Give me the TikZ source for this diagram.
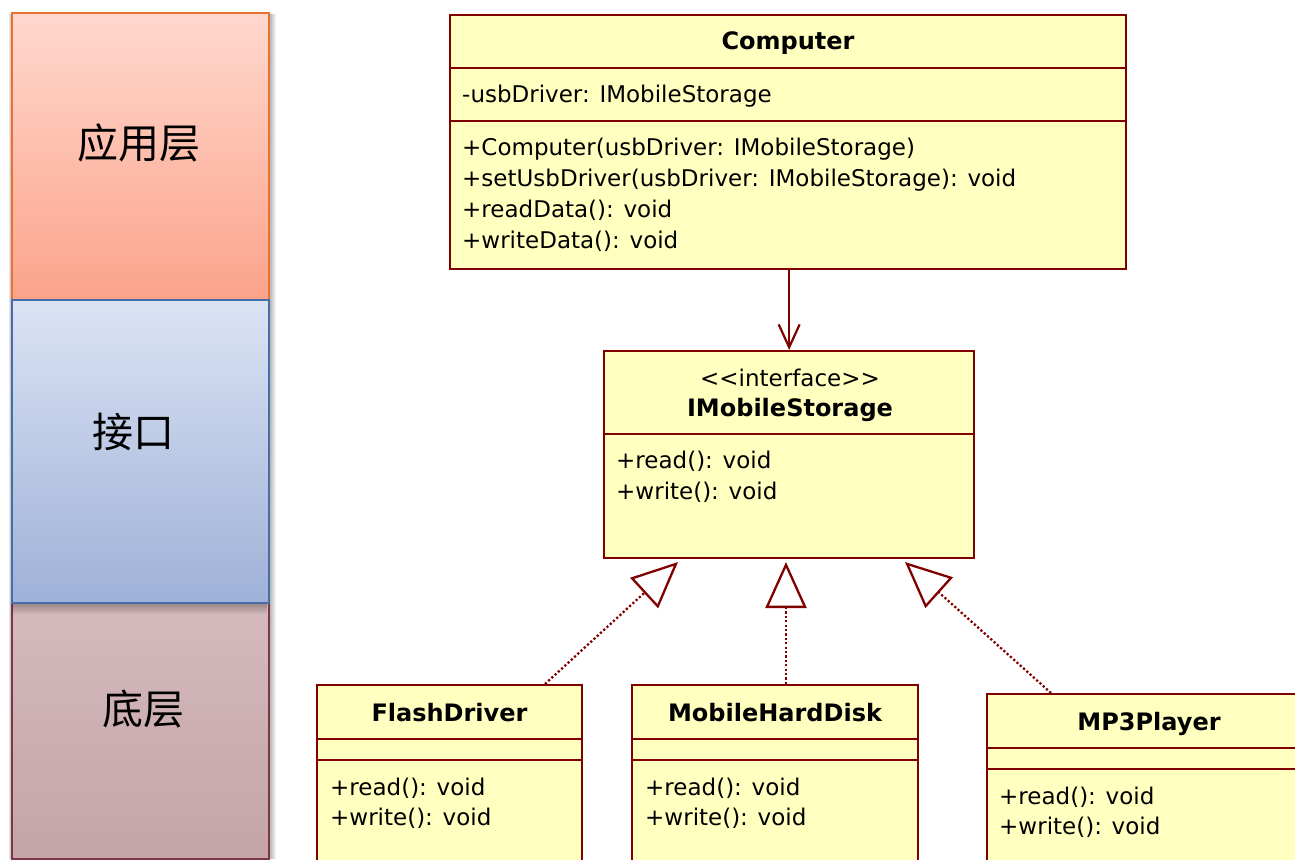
\documentclass[tikz,border=0pt]{standalone}
\usepackage{fontspec}
\setmainfont{DejaVu Sans}
\newfontfamily\cjk{Noto Sans CJK SC}
\usetikzlibrary{arrows.meta}
\definecolor{umlline}{RGB}{128,0,0}
\definecolor{umlfill}{RGB}{255,255,192}
\definecolor{appline}{RGB}{233,113,50}
\definecolor{apptop}{RGB}{255,216,206}
\definecolor{appbot}{RGB}{252,163,138}
\definecolor{ifline}{RGB}{68,110,170}
\definecolor{iftop}{RGB}{219,227,244}
\definecolor{ifbot}{RGB}{158,177,215}
\definecolor{lowline}{RGB}{125,55,72}
\definecolor{lowtop}{RGB}{213,186,189}
\definecolor{lowbot}{RGB}{196,164,167}
\begin{document}
\begin{tikzpicture}[x=1pt,y=-1pt,
  layer/.style={line width=1.8pt, inner sep=0pt, anchor=north west, minimum width=257pt},
  layertext/.style={inner sep=0pt, font=\cjk\fontsize{41}{48}\selectfont},
  cls/.style={draw=umlline, fill=umlfill, line width=2.3pt, inner sep=0pt, anchor=north west},
  sep/.style={draw=umlline, line width=2.3pt},
  member/.style={inner sep=0pt, anchor=base west, font=\fontsize{23}{28}\selectfont},
  title/.style={inner sep=0pt, anchor=base, font=\bfseries\fontsize{24}{28}\selectfont},
  stereo/.style={inner sep=0pt, anchor=base, font=\fontsize{23}{28}\selectfont},
  assoc/.style={draw=umlline, line width=2.2pt, -{Straight Barb[length=23pt,width=21pt]}},
  realize/.style={draw=umlline, line width=2.3pt, dash pattern=on 2.2pt off 2.2pt,
    -{Triangle[open, length=46pt, width=41pt, fill=white]}}
]
\useasboundingbox (0,0) rectangle (1295,859);

% soft shadow behind the layer stack
\foreach \s in {1,...,7}
  \fill[black, opacity=0.05] (12-\s*0.5, 14) rectangle (269+\s, 859);

% layer stack
\node[layer, draw=lowline, top color=lowtop, bottom color=lowbot, minimum height=256pt] (low) at (11,602) {};
\foreach \s in {1,...,12}
  \fill[black, opacity=0.028] (11.9,602) rectangle (267.1,602+\s);
\node[layer, draw=appline, top color=apptop, bottom color=appbot, minimum height=287pt] (app) at (11,12) {};
\node[layer, draw=ifline, top color=iftop, bottom color=ifbot, minimum height=303pt] (if) at (11,299) {};

\node[layertext] (appT) at (138.5,143) {应用层};
\node[layertext] (ifT) at (133,432) {接口};
\node[layertext] (lowT) at (143,709) {底层};

% Computer
\node[cls, minimum width=676pt, minimum height=254pt] (comp) at (449,14) {};
\draw[sep] (449,68) -- (1127,68);
\draw[sep] (449,121) -- (1127,121);
\node[title] (compT) at (788,50) {Computer};
\node[member] (compA) at (462,102.5) {-usbDriver: IMobileStorage};
\node[member] (compM1) at (462,155.5) {+Computer(usbDriver: IMobileStorage)};
\node[member] (compM2) at (462,186.5) {+setUsbDriver(usbDriver: IMobileStorage): void};
\node[member] (compM3) at (462,217.5) {+readData(): void};
\node[member] (compM4) at (462,248.5) {+writeData(): void};

% IMobileStorage
\node[cls, minimum width=370pt, minimum height=207pt] (ims) at (603,350) {};
\draw[sep] (603,434) -- (975,434);
\node[stereo] (imsS) at (790,386) {<{}<interface>{}>};
\node[title] (imsT) at (790,416.5) {IMobileStorage};
\node[member] (imsM1) at (616,468) {+read(): void};
\node[member] (imsM2) at (616,499) {+write(): void};

% FlashDriver
\node[cls, minimum width=265pt, minimum height=220pt] (fd) at (316,684) {};
\draw[sep] (316,739) -- (583,739);
\draw[sep] (316,760) -- (583,760);
\node[title] (fdT) at (449.5,721) {FlashDriver};
\node[member] (fdM1) at (330,795) {+read(): void};
\node[member] (fdM2) at (330,825) {+write(): void};

% MobileHardDisk
\node[cls, minimum width=286pt, minimum height=220pt] (mhd) at (631,684) {};
\draw[sep] (631,739) -- (919,739);
\draw[sep] (631,760) -- (919,760);
\node[title] (mhdT) at (775,721) {MobileHardDisk};
\node[member] (mhdM1) at (645,795) {+read(): void};
\node[member] (mhdM2) at (645,825) {+write(): void};

% MP3Player
\node[cls, minimum width=340pt, minimum height=220pt] (mp3) at (986,693) {};
\draw[sep] (986,748) -- (1330,748);
\draw[sep] (986,769) -- (1330,769);
\node[title] (mp3T) at (1149,730) {MP3Player};
\node[member] (mp3M1) at (999,804) {+read(): void};
\node[member] (mp3M2) at (999,834) {+write(): void};

% dependency of Computer on the interface
\draw[assoc] (ims.north |- comp.south) -- (ims.north);

% realizations
\coordinate (fdEnd) at (545,684);
\coordinate (mhdEnd) at (786,684);
\coordinate (mp3End) at (1051,693);
\coordinate (tipL) at (678,562);
\coordinate (tipM) at (786,562);
\coordinate (tipR) at (905,562);
\draw[realize] (fdEnd) -- (tipL);
\draw[realize] (mhdEnd) -- (tipM);
\draw[realize] (mp3End) -- (tipR);
\end{tikzpicture}
\end{document}
